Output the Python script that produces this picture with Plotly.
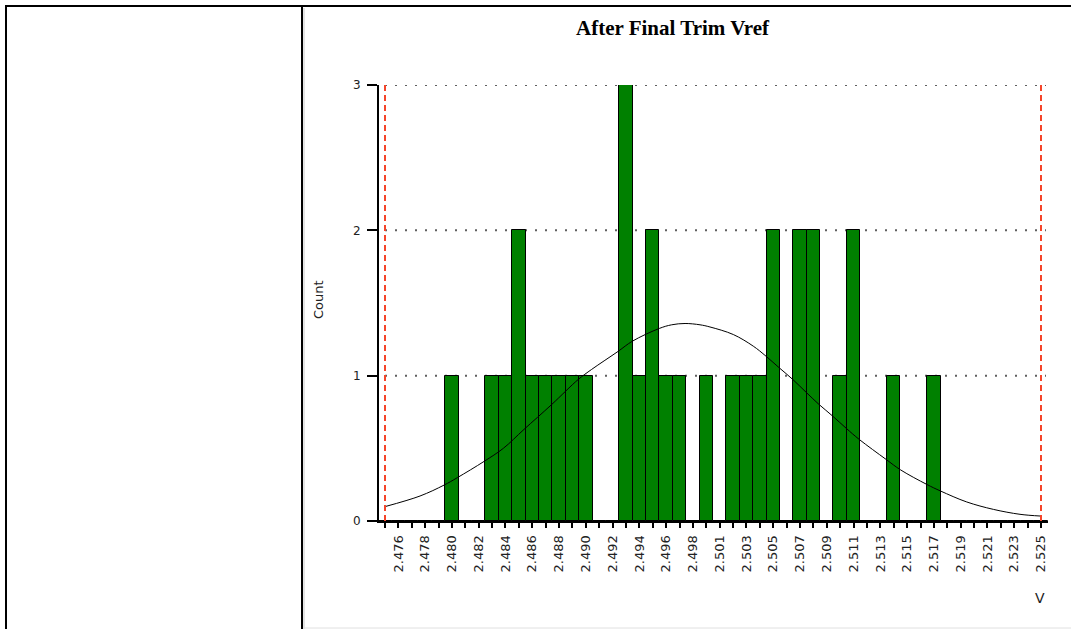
import numpy as np
import plotly.graph_objects as go

# ---- data ----
LSL = 2.475
USL = 2.525
N_BINS = 50
# counts per bin (bin 0 at LSL ... bin 49 at USL)
counts = [0, 0, 0, 0, 0, 1, 0, 0, 1, 1,
          2, 1, 1, 1, 1, 1, 0, 0, 3, 1,
          2, 1, 1, 0, 1, 0, 1, 1, 1, 2,
          0, 2, 2, 0, 1, 2, 0, 0, 1, 0,
          0, 1, 0, 0, 0, 0, 0, 0, 0, 0]
tick_labels = ["2.476", "2.478", "2.480", "2.482", "2.484", "2.486", "2.488",
               "2.490", "2.492", "2.494", "2.496", "2.498", "2.501", "2.503",
               "2.505", "2.507", "2.509", "2.511", "2.513", "2.515", "2.517",
               "2.519", "2.521", "2.523", "2.525"]
# fitted normal curve
curve_v = [2.47500, 2.47767, 2.47950, 2.48051, 2.48255, 2.48402, 2.48559,
           2.48771, 2.48973, 2.49075, 2.49278, 2.49385, 2.49591, 2.49685,
           2.49787, 2.49901, 2.49977, 2.50155, 2.50307, 2.50396, 2.50505,
           2.50608, 2.50714, 2.50808, 2.50912, 2.51019, 2.51115, 2.51319,
           2.51431, 2.51629, 2.51735, 2.51934, 2.52137, 2.52340, 2.52498]
curve_count = [0.099, 0.172, 0.247, 0.298, 0.410, 0.500, 0.630,
               0.802, 0.974, 1.043, 1.168, 1.237, 1.325, 1.350,
               1.359, 1.350, 1.335, 1.283, 1.203, 1.140, 1.054,
               0.974, 0.882, 0.802, 0.722, 0.635, 0.561, 0.424,
               0.351, 0.252, 0.206, 0.131, 0.080, 0.046, 0.034]
grid_counts = [1, 2, 3]

bin_pos = np.linspace(LSL, USL, N_BINS)
bin_w = bin_pos[1] - bin_pos[0]

W, H = 1071, 629
px_per_v = (1041 - 385) / (USL - LSL)
def v_at(px):
    return LSL + (px - 385) / px_per_v

fig = go.Figure()
fig.add_trace(go.Bar(x=bin_pos, y=counts, width=bin_w,
                     marker=dict(color="#008000", line=dict(color="#000000", width=1)),
                     showlegend=False))
fig.add_trace(go.Scatter(x=curve_v, y=curve_count, mode="lines",
                         line=dict(color="#000000", width=1, shape="spline"),
                         showlegend=False))

shapes = []
# dotted grid lines
for g in grid_counts:
    shapes.append(dict(type="line", xref="x", yref="y", x0=LSL, x1=v_at(1046), y0=g, y1=g,
                       line=dict(color="#606060", width=2, dash="2px,8px"), layer="below"))
# spec limit lines
for s in (LSL, USL):
    shapes.append(dict(type="line", xref="x", yref="y", x0=s, x1=s, y0=0, y1=3,
                       line=dict(color="#f5452a", width=2, dash="6px,4px"), layer="above"))
# frame
def hline(y, x0, x1, w=2, c="#000"):
    return dict(type="line", xref="paper", yref="paper", x0=x0 / W, x1=x1 / W,
                y0=1 - y / H, y1=1 - y / H, line=dict(color=c, width=w))
def vline(x, y0, y1, w=2, c="#000"):
    return dict(type="line", xref="paper", yref="paper", x0=x / W, x1=x / W,
                y0=1 - y0 / H, y1=1 - y1 / H, line=dict(color=c, width=w))
shapes.append(hline(6, 5, W))
shapes.append(vline(6, 5, H))
shapes.append(vline(302, 6, H))
shapes.append(vline(304, 8, H, w=1, c="#c8c8c8"))
shapes.append(hline(628, 304, W, w=1, c="#e0e0e0"))

tickvals = list(bin_pos)
ticktext = []
li = 0
for k in range(N_BINS):
    if k % 2 == 1:
        ticktext.append(tick_labels[li]); li += 1
    else:
        ticktext.append("")

annotations = [
    dict(text="<b>After Final Trim Vref</b>", xref="paper", yref="paper",
         x=673 / W, y=1 - 28 / H, xanchor="center", yanchor="middle", showarrow=False,
         font=dict(family="Liberation Serif", size=21, color="#000")),
    dict(text="Count", xref="paper", yref="paper", x=318 / W, y=1 - 300 / H,
         xanchor="center", yanchor="middle",
         showarrow=False, textangle=-90,
         font=dict(family="DejaVu Sans", size=13, color="#222")),
    dict(text="V", xref="paper", yref="paper", x=1040 / W, y=1 - 598 / H,
         xanchor="center", yanchor="middle",
         showarrow=False, font=dict(family="DejaVu Sans", size=14, color="#222")),
]

fig.update_layout(
    template="none",
    width=W, height=H, margin=dict(l=0, r=0, t=0, b=0, pad=0, autoexpand=False),
    paper_bgcolor="white", plot_bgcolor="white",
    bargap=0, shapes=shapes, annotations=annotations, showlegend=False,
    xaxis=dict(domain=[379 / W, 1048 / W], range=[v_at(379), v_at(1048)],
               automargin=False, ticklabelstandoff=2,
               showgrid=False, zeroline=False, showline=True, linecolor="#000", linewidth=2,
               tickmode="array", tickvals=tickvals, ticktext=ticktext,
               ticks="outside", ticklen=5, tickwidth=2, tickcolor="#000",
               tickangle=-90, tickfont=dict(family="DejaVu Sans", size=13, color="#222")),
    yaxis=dict(domain=[1 - 521 / H, 1 - 85 / H], range=[0, 3],
               automargin=False, ticklabelstandoff=4,
               showgrid=False, zeroline=False, showline=True, linecolor="#000", linewidth=2,
               tickmode="array", tickvals=[0, 1, 2, 3], ticktext=["0", "1", "2", "3"],
               ticks="outside", ticklen=10, tickwidth=2, tickcolor="#000",
               tickfont=dict(family="DejaVu Sans", size=12, color="#222")),
)

fig.write_html("out.html")
